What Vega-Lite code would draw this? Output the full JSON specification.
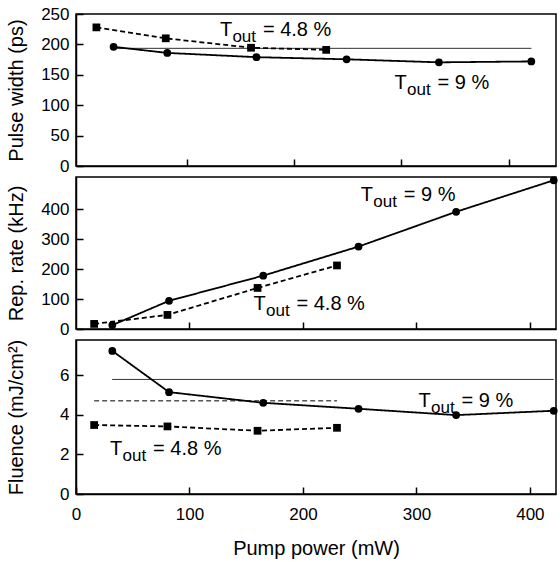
{
  "$schema": "https://vega.github.io/schema/vega-lite/v6.json",
  "background": "white",
  "padding": {"left": 5, "top": 4, "right": 2, "bottom": 0},
  "spacing": 0,
  "datasets": {
    "measurements": [
      {"quantity": "pw", "series": "4.8 %", "power": 16, "value": 228},
      {"quantity": "pw", "series": "4.8 %", "power": 80.6, "value": 210},
      {"quantity": "pw", "series": "4.8 %", "power": 160, "value": 194.5},
      {"quantity": "pw", "series": "4.8 %", "power": 230, "value": 191},
      {"quantity": "pw", "series": "9 %", "power": 32, "value": 196},
      {"quantity": "pw", "series": "9 %", "power": 82, "value": 186},
      {"quantity": "pw", "series": "9 %", "power": 165, "value": 179},
      {"quantity": "pw", "series": "9 %", "power": 249, "value": 175.5},
      {"quantity": "pw", "series": "9 %", "power": 335, "value": 170.5},
      {"quantity": "pw", "series": "9 %", "power": 421, "value": 172},
      {"quantity": "rr", "series": "4.8 %", "power": 16, "value": 17},
      {"quantity": "rr", "series": "4.8 %", "power": 80.6, "value": 47},
      {"quantity": "rr", "series": "4.8 %", "power": 160, "value": 137},
      {"quantity": "rr", "series": "4.8 %", "power": 230, "value": 212},
      {"quantity": "rr", "series": "9 %", "power": 32, "value": 13},
      {"quantity": "rr", "series": "9 %", "power": 82, "value": 94},
      {"quantity": "rr", "series": "9 %", "power": 165, "value": 178},
      {"quantity": "rr", "series": "9 %", "power": 249, "value": 275},
      {"quantity": "rr", "series": "9 %", "power": 335, "value": 391},
      {"quantity": "rr", "series": "9 %", "power": 421, "value": 496},
      {"quantity": "fl", "series": "4.8 %", "power": 16, "value": 3.48},
      {"quantity": "fl", "series": "4.8 %", "power": 80.6, "value": 3.41},
      {"quantity": "fl", "series": "4.8 %", "power": 160, "value": 3.19},
      {"quantity": "fl", "series": "4.8 %", "power": 230, "value": 3.34},
      {"quantity": "fl", "series": "9 %", "power": 32, "value": 7.22},
      {"quantity": "fl", "series": "9 %", "power": 82, "value": 5.14},
      {"quantity": "fl", "series": "9 %", "power": 165, "value": 4.6},
      {"quantity": "fl", "series": "9 %", "power": 249, "value": 4.3},
      {"quantity": "fl", "series": "9 %", "power": 335, "value": 3.98},
      {"quantity": "fl", "series": "9 %", "power": 421, "value": 4.2}
    ],
    "averages": [
      {"quantity": "pw", "series": "9 %", "power": 32, "power_end": 421, "value": 193.5},
      {"quantity": "fl", "series": "9 %", "power": 32, "power_end": 421, "value": 5.78},
      {"quantity": "fl", "series": "4.8 %", "power": 16, "power_end": 230, "value": 4.7}
    ],
    "labels": [
      {"quantity": "pw", "series": "4.8 %", "tag": "= 4.8 %", "power": 131, "value": 214},
      {"quantity": "pw", "series": "9 %", "tag": "= 9 %", "power": 293.6, "value": 126.6},
      {"quantity": "rr", "series": "9 %", "tag": "= 9 %", "power": 251, "value": 426},
      {"quantity": "rr", "series": "4.8 %", "tag": "= 4.8 %", "power": 156.4, "value": 65},
      {"quantity": "fl", "series": "4.8 %", "tag": "= 4.8 %", "power": 30, "value": 1.96},
      {"quantity": "fl", "series": "9 %", "tag": "= 9 %", "power": 301.8, "value": 4.4}
    ]
  },
  "vconcat": [
    {
      "width": 480,
      "height": 152,
      "encoding": {
        "x": {"field": "power", "type": "quantitative", "scale": {"domain": [-3, 444], "nice": false, "zero": false},
              "axis": {"title": null, "labels": false, "values": [100, 200, 300, 400]}},
        "y": {"field": "value", "type": "quantitative", "scale": {"domain": [0, 250], "nice": false},
              "axis": {"title": "Pulse width (ps)", "values": [0, 50, 100, 150, 200, 250], "titleX": -50, "titleY": 76}}
      },
      "layer": [
        {"data": {"name": "averages"}, "transform": [{"filter": "datum.quantity === 'pw'"}],
         "mark": {"type": "rule", "color": "black", "strokeWidth": 1},
         "encoding": {"x2": {"field": "power_end"},
           "strokeDash": {"field": "series", "type": "nominal", "scale": {"domain": ["4.8 %", "9 %"], "range": [[5, 3], [1, 0]]}, "legend": null}}},
        {"data": {"name": "measurements"}, "transform": [{"filter": "datum.quantity === 'pw'"}],
         "mark": {"type": "line", "color": "black", "strokeWidth": 1.8},
         "encoding": {"detail": {"field": "series"},
           "strokeDash": {"field": "series", "type": "nominal", "scale": {"domain": ["4.8 %", "9 %"], "range": [[5, 3], [1, 0]]}, "legend": null}}},
        {"data": {"name": "measurements"}, "transform": [{"filter": "datum.quantity === 'pw'"}],
         "mark": {"type": "point", "filled": true, "color": "black", "opacity": 1, "size": 60},
         "encoding": {"shape": {"field": "series", "type": "nominal", "scale": {"domain": ["4.8 %", "9 %"], "range": ["square", "circle"]}, "legend": null}}},
        {"data": {"name": "labels"}, "transform": [{"filter": "datum.quantity === 'pw'"}],
         "mark": {"type": "text", "align": "left", "baseline": "alphabetic", "fontSize": 20, "color": "black"},
         "encoding": {"text": {"value": "T"}}},
        {"data": {"name": "labels"}, "transform": [{"filter": "datum.quantity === 'pw'"}],
         "mark": {"type": "text", "align": "left", "baseline": "alphabetic", "fontSize": 17, "color": "black", "dx": 12.5, "dy": 6},
         "encoding": {"text": {"value": "out"}}},
        {"data": {"name": "labels"}, "transform": [{"filter": "datum.quantity === 'pw'"}],
         "mark": {"type": "text", "align": "left", "baseline": "alphabetic", "fontSize": 20, "color": "black", "dx": 43},
         "encoding": {"text": {"field": "tag"}}}
      ]
    },
    {
      "width": 480,
      "height": 152,
      "encoding": {
        "x": {"field": "power", "type": "quantitative", "scale": {"domain": [0, 423], "nice": false},
              "axis": {"title": null, "labels": false, "values": [100, 200, 300, 400]}},
        "y": {"field": "value", "type": "quantitative", "scale": {"domain": [0, 507], "nice": false},
              "axis": {"title": "Rep. rate (kHz)", "values": [0, 100, 200, 300, 400], "titleX": -50, "titleY": 76}}
      },
      "layer": [
        {"data": {"name": "measurements"}, "transform": [{"filter": "datum.quantity === 'rr'"}],
         "mark": {"type": "line", "color": "black", "strokeWidth": 1.8},
         "encoding": {"detail": {"field": "series"},
           "strokeDash": {"field": "series", "type": "nominal", "scale": {"domain": ["4.8 %", "9 %"], "range": [[5, 3], [1, 0]]}, "legend": null}}},
        {"data": {"name": "measurements"}, "transform": [{"filter": "datum.quantity === 'rr'"}],
         "mark": {"type": "point", "filled": true, "color": "black", "opacity": 1, "size": 60},
         "encoding": {"shape": {"field": "series", "type": "nominal", "scale": {"domain": ["4.8 %", "9 %"], "range": ["square", "circle"]}, "legend": null}}},
        {"data": {"name": "labels"}, "transform": [{"filter": "datum.quantity === 'rr'"}],
         "mark": {"type": "text", "align": "left", "baseline": "alphabetic", "fontSize": 20, "color": "black"},
         "encoding": {"text": {"value": "T"}}},
        {"data": {"name": "labels"}, "transform": [{"filter": "datum.quantity === 'rr'"}],
         "mark": {"type": "text", "align": "left", "baseline": "alphabetic", "fontSize": 17, "color": "black", "dx": 12.5, "dy": 6},
         "encoding": {"text": {"value": "out"}}},
        {"data": {"name": "labels"}, "transform": [{"filter": "datum.quantity === 'rr'"}],
         "mark": {"type": "text", "align": "left", "baseline": "alphabetic", "fontSize": 20, "color": "black", "dx": 43},
         "encoding": {"text": {"field": "tag"}}}
      ]
    },
    {
      "width": 480,
      "height": 154,
      "encoding": {
        "x": {"field": "power", "type": "quantitative", "scale": {"domain": [0, 423], "nice": false},
              "axis": {"title": "Pump power (mW)", "values": [0, 100, 200, 300, 400], "labelPadding": 19, "titlePadding": 16}},
        "y": {"field": "value", "type": "quantitative", "scale": {"domain": [0, 7.77], "nice": false},
              "axis": {"title": "Fluence (mJ/cm²)", "values": [0, 2, 4, 6], "titleX": -50, "titleY": 77}}
      },
      "layer": [
        {"data": {"name": "averages"}, "transform": [{"filter": "datum.quantity === 'fl'"}],
         "mark": {"type": "rule", "color": "black", "strokeWidth": 1},
         "encoding": {"x2": {"field": "power_end"},
           "strokeDash": {"field": "series", "type": "nominal", "scale": {"domain": ["4.8 %", "9 %"], "range": [[5, 3], [1, 0]]}, "legend": null}}},
        {"data": {"name": "measurements"}, "transform": [{"filter": "datum.quantity === 'fl'"}],
         "mark": {"type": "line", "color": "black", "strokeWidth": 1.8},
         "encoding": {"detail": {"field": "series"},
           "strokeDash": {"field": "series", "type": "nominal", "scale": {"domain": ["4.8 %", "9 %"], "range": [[5, 3], [1, 0]]}, "legend": null}}},
        {"data": {"name": "measurements"}, "transform": [{"filter": "datum.quantity === 'fl'"}],
         "mark": {"type": "point", "filled": true, "color": "black", "opacity": 1, "size": 60},
         "encoding": {"shape": {"field": "series", "type": "nominal", "scale": {"domain": ["4.8 %", "9 %"], "range": ["square", "circle"]}, "legend": null}}},
        {"data": {"name": "labels"}, "transform": [{"filter": "datum.quantity === 'fl'"}],
         "mark": {"type": "text", "align": "left", "baseline": "alphabetic", "fontSize": 20, "color": "black"},
         "encoding": {"text": {"value": "T"}}},
        {"data": {"name": "labels"}, "transform": [{"filter": "datum.quantity === 'fl'"}],
         "mark": {"type": "text", "align": "left", "baseline": "alphabetic", "fontSize": 17, "color": "black", "dx": 12.5, "dy": 6},
         "encoding": {"text": {"value": "out"}}},
        {"data": {"name": "labels"}, "transform": [{"filter": "datum.quantity === 'fl'"}],
         "mark": {"type": "text", "align": "left", "baseline": "alphabetic", "fontSize": 20, "color": "black", "dx": 43},
         "encoding": {"text": {"field": "tag"}}}
      ]
    }
  ],
  "config": {
    "font": "Liberation Sans",
    "view": {"stroke": "black", "strokeWidth": 1.5},
    "axis": {
      "grid": false,
      "domainColor": "black",
      "domainWidth": 1.5,
      "tickColor": "black",
      "tickWidth": 1.5,
      "tickSize": -7,
      "labelColor": "black",
      "labelFontSize": 17,
      "labelFont": "Liberation Sans",
      "labelPadding": 14,
      "labelFlush": false,
      "labelOverlap": false,
      "titleFont": "Liberation Sans",
      "titleFontSize": 20,
      "titleFontWeight": "normal",
      "titleColor": "black"
    }
  }
}
